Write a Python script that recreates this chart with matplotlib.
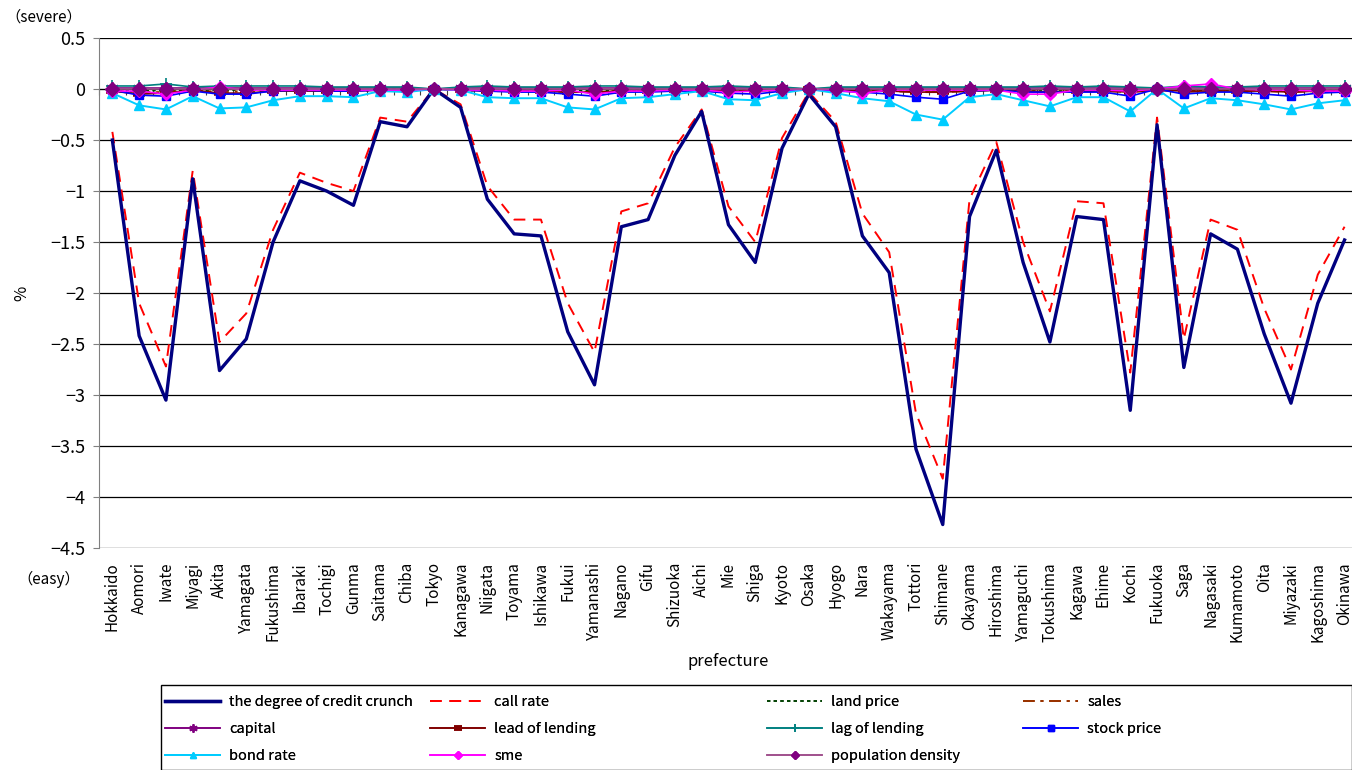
"""Credit crunch decomposition by prefecture."""

import numpy as np
import matplotlib

matplotlib.use("Agg")
import matplotlib.pyplot as plt
from matplotlib.patches import Rectangle

plt.rcParams["font.family"] = ["Noto Sans CJK JP", "DejaVu Sans"]

prefectures = [
    "Hokkaido", "Aomori", "Iwate", "Miyagi", "Akita", "Yamagata", "Fukushima",
    "Ibaraki", "Tochigi", "Gunma", "Saitama", "Chiba", "Tokyo", "Kanagawa",
    "Niigata", "Toyama", "Ishikawa", "Fukui", "Yamanashi", "Nagano", "Gifu",
    "Shizuoka", "Aichi", "Mie", "Shiga", "Kyoto", "Osaka", "Hyogo", "Nara",
    "Wakayama", "Tottori", "Shimane", "Okayama", "Hiroshima", "Yamaguchi",
    "Tokushima", "Kagawa", "Ehime", "Kochi", "Fukuoka", "Saga", "Nagasaki",
    "Kumamoto", "Oita", "Miyazaki", "Kagoshima", "Okinawa",
]

credit_crunch = [
    -0.50, -2.42, -3.05, -0.88, -2.76, -2.45, -1.50, -0.90, -1.00, -1.14,
    -0.32, -0.37, 0.00, -0.18, -1.08, -1.42, -1.44, -2.38, -2.90, -1.35,
    -1.28, -0.65, -0.22, -1.33, -1.70, -0.58, -0.05, -0.37, -1.44, -1.80,
    -3.53, -4.27, -1.25, -0.60, -1.70, -2.48, -1.25, -1.28, -3.15, -0.35,
    -2.73, -1.42, -1.57, -2.40, -3.08, -2.10, -1.48,
]
call_rate = [
    -0.42, -2.10, -2.72, -0.80, -2.48, -2.20, -1.38, -0.82, -0.92, -1.00,
    -0.28, -0.32, 0.00, -0.15, -0.95, -1.28, -1.28, -2.10, -2.58, -1.20,
    -1.12, -0.57, -0.20, -1.15, -1.50, -0.48, -0.03, -0.32, -1.22, -1.60,
    -3.18, -3.82, -1.08, -0.52, -1.50, -2.18, -1.10, -1.12, -2.78, -0.28,
    -2.45, -1.28, -1.38, -2.15, -2.75, -1.82, -1.35,
]
land_price = [
    -0.01, -0.01, -0.02, -0.01, -0.01, -0.01, -0.01, -0.01, -0.01, -0.01,
    0.00, 0.00, 0.00, 0.00, -0.01, -0.01, -0.01, -0.01, -0.02, -0.01,
    -0.01, -0.01, 0.00, -0.01, -0.01, 0.00, 0.00, 0.00, -0.01, -0.01,
    -0.02, -0.02, -0.01, -0.01, -0.01, -0.01, -0.01, -0.01, -0.02, 0.00,
    -0.01, -0.01, -0.01, -0.01, -0.02, -0.01, -0.01,
]
sales = [
    -0.02, -0.03, -0.03, -0.01, -0.03, -0.02, -0.02, -0.01, -0.02, -0.02,
    -0.01, -0.01, 0.00, -0.01, -0.02, -0.02, -0.02, -0.03, -0.03, -0.02,
    -0.02, -0.01, -0.01, -0.02, -0.02, -0.01, 0.00, -0.01, -0.02, -0.02,
    -0.03, -0.03, -0.02, -0.01, -0.02, -0.03, -0.02, -0.02, -0.03, -0.01,
    -0.03, -0.02, -0.02, -0.02, -0.03, -0.02, -0.02,
]
capital = [
    0.01, 0.01, 0.01, 0.01, 0.01, 0.01, 0.01, 0.01, 0.01, 0.01,
    0.01, 0.01, 0.00, 0.01, 0.01, 0.01, 0.01, 0.01, 0.01, 0.01,
    0.01, 0.01, 0.01, 0.01, 0.01, 0.01, 0.00, 0.01, 0.01, 0.01,
    0.01, 0.01, 0.01, 0.01, 0.01, 0.01, 0.01, 0.01, 0.01, 0.00,
    0.01, 0.01, 0.01, 0.01, 0.01, 0.01, 0.01,
]
lead_of_lending = [
    -0.02, -0.05, -0.04, -0.01, -0.04, -0.04, -0.02, -0.02, -0.02, -0.02,
    -0.01, -0.01, 0.00, -0.01, -0.02, -0.02, -0.02, -0.03, -0.03, -0.02,
    -0.02, -0.01, -0.01, -0.02, -0.02, -0.01, 0.00, -0.01, -0.02, -0.02,
    -0.03, -0.03, -0.02, -0.01, -0.02, -0.03, -0.02, -0.02, -0.03, -0.01,
    -0.02, -0.02, -0.02, -0.02, -0.03, -0.02, -0.02,
]
lag_of_lending = [
    0.03, 0.03, 0.05, 0.02, 0.03, 0.03, 0.03, 0.03, 0.02, 0.02,
    0.02, 0.02, 0.00, 0.02, 0.03, 0.02, 0.02, 0.02, 0.03, 0.03,
    0.02, 0.02, 0.02, 0.03, 0.02, 0.02, 0.00, 0.02, 0.02, 0.02,
    0.02, 0.02, 0.02, 0.02, 0.02, 0.03, 0.02, 0.03, 0.02, 0.01,
    0.03, 0.02, 0.02, 0.03, 0.03, 0.03, 0.03,
]
stock_price = [
    -0.01, -0.06, -0.07, -0.02, -0.05, -0.05, -0.02, -0.01, -0.02, -0.02,
    -0.01, -0.01, 0.00, -0.01, -0.02, -0.03, -0.03, -0.05, -0.07, -0.03,
    -0.03, -0.02, -0.02, -0.04, -0.05, -0.02, 0.00, -0.02, -0.03, -0.05,
    -0.08, -0.10, -0.02, -0.01, -0.03, -0.03, -0.03, -0.03, -0.07, 0.00,
    -0.05, -0.03, -0.03, -0.05, -0.07, -0.04, -0.03,
]
bond_rate = [
    -0.04, -0.16, -0.20, -0.07, -0.19, -0.18, -0.11, -0.07, -0.07, -0.08,
    -0.02, -0.03, 0.00, -0.01, -0.08, -0.09, -0.09, -0.18, -0.20, -0.09,
    -0.08, -0.05, -0.02, -0.10, -0.11, -0.04, 0.00, -0.04, -0.09, -0.12,
    -0.25, -0.30, -0.08, -0.05, -0.11, -0.17, -0.08, -0.08, -0.22, 0.00,
    -0.19, -0.09, -0.11, -0.15, -0.20, -0.14, -0.11,
]
sme = [
    -0.02, -0.02, -0.05, -0.01, 0.02, -0.01, -0.01, -0.01, -0.01, -0.01,
    -0.01, -0.01, 0.00, -0.01, -0.01, -0.02, -0.02, -0.01, -0.05, -0.02,
    -0.02, -0.01, -0.01, -0.03, -0.02, -0.01, 0.00, -0.01, -0.04, -0.01,
    -0.01, -0.01, -0.01, -0.01, -0.05, -0.05, -0.01, -0.01, -0.02, 0.00,
    0.03, 0.05, 0.00, -0.01, -0.01, -0.02, -0.02,
]
population_density = [
    0.00, 0.00, 0.00, 0.00, 0.00, 0.00, 0.00, 0.00, 0.00, 0.00,
    0.00, 0.00, 0.00, 0.00, 0.00, 0.00, 0.00, 0.00, 0.00, 0.00,
    0.00, 0.00, 0.00, 0.00, 0.00, 0.00, 0.00, 0.00, 0.00, 0.00,
    0.00, 0.00, 0.00, 0.00, 0.00, 0.00, 0.00, 0.00, 0.00, 0.00,
    0.00, 0.00, 0.00, 0.00, 0.00, 0.00, 0.00,
]

y_ticks = [0.5, 0, -0.5, -1, -1.5, -2, -2.5, -3, -3.5, -4, -4.5]

fig = plt.figure(figsize=(13.52, 7.70), dpi=100)
ax = fig.add_axes([0.0732, 0.2883, 0.9312, 0.6623])
x = np.arange(len(prefectures))

h = {}
h["call"], = ax.plot(x, call_rate, color="#FF0000", lw=1.4, ls=(0, (6, 4)), label="call rate")
h["credit"], = ax.plot(x, credit_crunch, color="#000080", lw=2.4, label="the degree of credit crunch")
h["land"], = ax.plot(x, land_price, color="#004000", lw=1.2, ls=(0, (2, 2)), label="land price")
h["sales"], = ax.plot(x, sales, color="#993300", lw=1.4, ls=(0, (6, 3, 1.5, 3)), label="sales")
h["capital"], = ax.plot(x, capital, color="#800080", lw=1.2, marker=(6, 2, 0), ms=9,
                        mew=1.2, label="capital")
h["lead"], = ax.plot(x, lead_of_lending, color="#800000", lw=1.2, marker="_", ms=8,
                     mew=4, label="lead of lending")
h["lag"], = ax.plot(x, lag_of_lending, color="#008080", lw=1.2, marker="+", ms=8,
                    mew=1.2, label="lag of lending")
h["stock"], = ax.plot(x, stock_price, color="#0000FF", lw=1.2, marker="s", ms=6,
                      label="stock price")
h["bond"], = ax.plot(x, bond_rate, color="#00CCFF", lw=1.4, marker="^", ms=7,
                     label="bond rate")
h["sme"], = ax.plot(x, sme, color="#FF00FF", lw=1.2, marker="D", ms=6, label="sme")
h["pop"], = ax.plot(x, population_density, color="#A0508C", lw=1.2, marker="D", ms=7,
                    mfc="#800080", mec="#800080", label="population density")

ax.set_xlim(-0.5, len(prefectures) - 0.5)
ax.set_ylim(-4.5, 0.5)
ax.set_yticks(y_ticks)
ax.set_yticklabels([f"{v:g}".replace("-", "\u2212") for v in y_ticks], fontsize=13)
ax.yaxis.grid(True, color="black", lw=0.9)
ax.set_axisbelow(True)
ax.tick_params(axis="y", direction="out", length=4, color="#808080", pad=6)

ax.set_xticks(x)
ax.set_xticklabels(prefectures, rotation=90, fontsize=11)
ax.tick_params(axis="x", length=0, pad=10)

for side in ("top", "right", "bottom"):
    ax.spines[side].set_visible(False)
ax.spines["left"].set_color("#808080")

# category axis crossing at zero, with ticks between prefectures
zero_axis = ax.secondary_xaxis(0.9)
zero_axis.set_xticks(np.arange(len(prefectures) + 1) - 0.5)
zero_axis.set_xticklabels([])
zero_axis.tick_params(direction="in", length=4, color="#404040")
zero_axis.spines["bottom"].set_color("#404040")

ax.set_xlabel("prefecture", fontsize=12, labelpad=8)
ax.set_ylabel("%", fontsize=12, labelpad=14)

fig.text(0.004, 0.978, "（severe）", fontsize=11, va="center", ha="left")
fig.text(0.013, 0.247, "（easy）", fontsize=11, va="center", ha="left")

# legend box, one frameless legend per column
W, H = 1352, 770
fig.patches.append(Rectangle((161 / W, 0), 1 - 161 / W, 85 / H, transform=fig.transFigure,
                             facecolor="white", edgecolor="black", lw=1.0))
columns = [
    (165, ["credit", "capital", "bond"]),
    (430, ["call", "lead", "sme"]),
    (767, ["land", "lag", "pop"]),
    (1023, ["sales", "stock"]),
]
for left, keys in columns:
    leg = fig.legend(
        [h[k] for k in keys], [h[k].get_label() for k in keys],
        loc="upper left", bbox_to_anchor=(left / W, 1 - 695 / H),
        fontsize=10.5, handlelength=3.8, handletextpad=0.6, labelspacing=0.9,
        markerscale=0.65, frameon=False, borderpad=0, borderaxespad=0,
    )
    fig.add_artist(leg)

fig.savefig("out.png", dpi=100)
